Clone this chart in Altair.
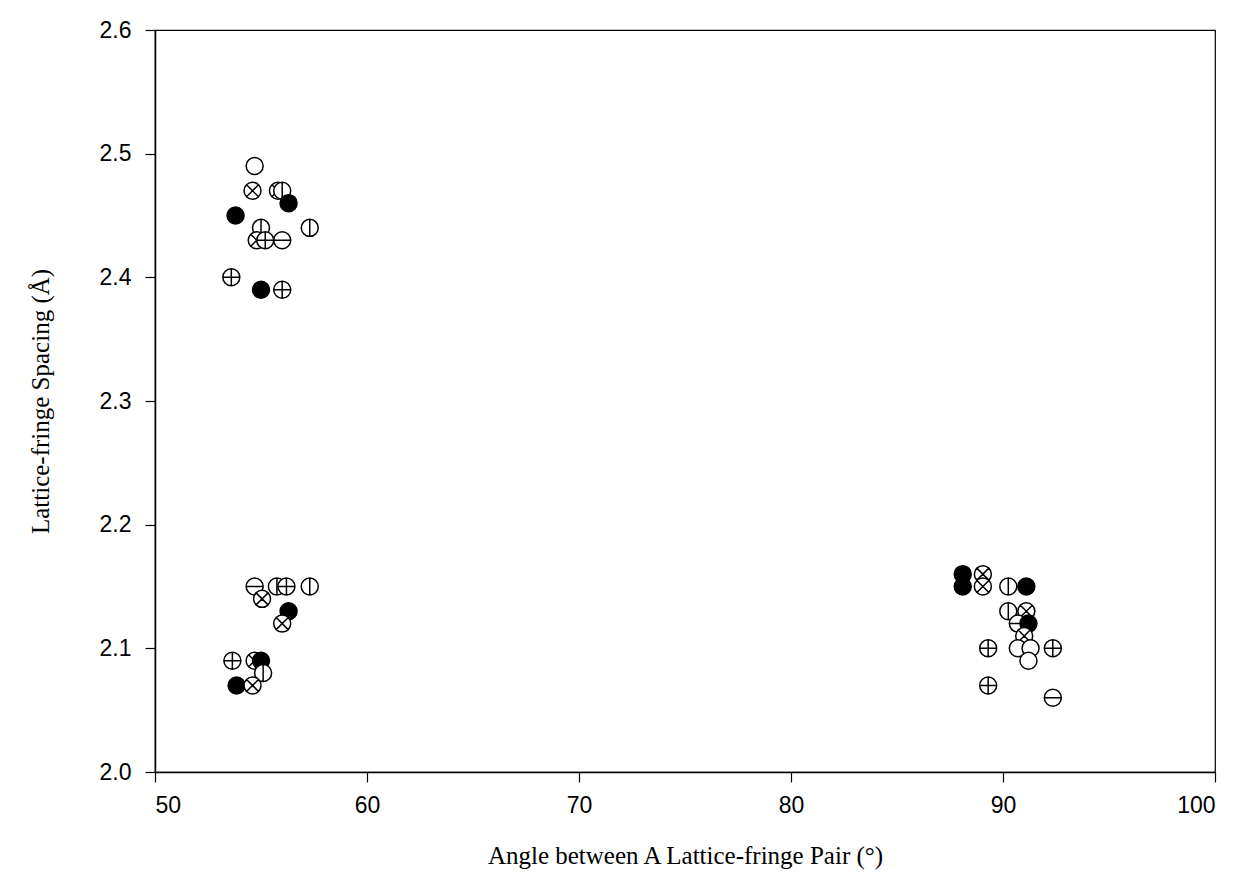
import altair as alt
import pandas as pd

# Data
angle = [
    54.7, 54.6, 55.8, 56.0, 53.8, 56.3, 55.0, 57.3, 54.8, 55.2, 56.0, 53.6, 55.0, 56.0,
    54.7, 55.75, 56.2, 57.3, 55.05, 56.3, 56.0, 53.65, 54.7, 55.0, 55.1, 53.85, 54.6,
    88.1, 88.1, 89.05, 89.05, 90.25, 91.1, 90.25, 91.1, 90.7, 91.2, 91.0, 89.3, 90.7,
    91.3, 92.35, 91.2, 89.3, 92.35,
]
spacing = [
    2.49, 2.47, 2.47, 2.47, 2.45, 2.46, 2.44, 2.44, 2.43, 2.43, 2.43, 2.40, 2.39, 2.39,
    2.15, 2.15, 2.15, 2.15, 2.14, 2.13, 2.12, 2.09, 2.09, 2.09, 2.08, 2.07, 2.07,
    2.16, 2.15, 2.16, 2.15, 2.15, 2.15, 2.13, 2.13, 2.12, 2.12, 2.11, 2.10, 2.10,
    2.10, 2.10, 2.09, 2.07, 2.06,
]
kind = [
    "open", "cross", "cross", "vline", "filled", "filled", "vline", "vline", "cross", "plus", "hline", "plus", "filled", "plus",
    "hline", "vline", "plus", "vline", "cross", "filled", "cross", "plus", "cross", "filled", "vline", "filled", "cross",
    "filled", "filled", "cross", "cross", "vline", "filled", "vline", "cross", "hline", "filled", "cross", "plus", "open",
    "open", "plus", "open", "plus", "hline",
]

kinds = ["open", "plus", "cross", "vline", "hline", "filled"]
circ = "M-1,0A1,1,0,1,1,1,0A1,1,0,1,1,-1,0Z"
shapes = [
    circ,
    circ + "M-1,0L1,0M0,-1L0,1",
    circ + "M-0.707,-0.707L0.707,0.707M-0.707,0.707L0.707,-0.707",
    circ + "M0,-1L0,1",
    circ + "M-1,0L1,0",
    circ,
]
fills = ["white", "white", "white", "white", "white", "black"]

df = pd.DataFrame({"angle": angle, "spacing": spacing, "kind": kind})

chart = (
    alt.Chart(df)
    .mark_point(size=289, strokeWidth=1.5, stroke="black", opacity=1, filled=True)
    .encode(
        x=alt.X(
            "angle:Q",
            scale=alt.Scale(domain=[50, 100], nice=False, zero=False),
            axis=alt.Axis(values=[50, 60, 70, 80, 90, 100], format="d",
                          title="Angle between A Lattice-fringe Pair (°)",
                          labelPadding=12, titlePadding=26),
        ),
        y=alt.Y(
            "spacing:Q",
            scale=alt.Scale(domain=[2.0, 2.6], nice=False, zero=False),
            axis=alt.Axis(values=[2.0, 2.1, 2.2, 2.3, 2.4, 2.5, 2.6], format=".1f",
                          title="Lattice-fringe Spacing (Å)",
                          labelPadding=14, titlePadding=46),
        ),
        shape=alt.Shape("kind:N", scale=alt.Scale(domain=kinds, range=shapes), legend=None),
        fill=alt.Fill("kind:N", scale=alt.Scale(domain=kinds, range=fills), legend=None),
    )
    .properties(
        width=1060,
        height=742,
        autosize=alt.AutoSizeParams(type="none"),
        padding={"left": 147, "top": 22, "right": 20, "bottom": 104},
    )
    .configure_view(stroke="black", strokeWidth=1.2)
    .configure_axis(
        grid=False,
        domainColor="black",
        domainWidth=1.5,
        tickColor="black",
        tickSize=10,
        tickWidth=1.2,
        labelFont="Liberation Sans",
        labelFontSize=23,
        labelColor="black",
        titleFont="Liberation Serif",
        titleFontSize=25,
        titleFontWeight="normal",
        titleColor="black",
    )
)

chart.save("out.html", embed_options={"renderer": "svg", "actions": False})
